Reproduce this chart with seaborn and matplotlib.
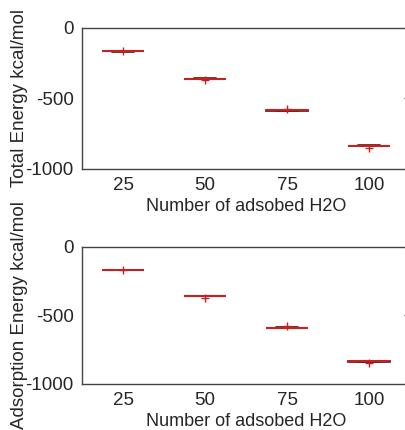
import numpy as np
import pandas as pd
import matplotlib
matplotlib.use("Agg")
import matplotlib.pyplot as plt
import seaborn as sns

sns.set_style("white")
plt.rcParams['font.family'] = ['Liberation Sans', 'DejaVu Sans']
plt.rcParams['axes.unicode_minus'] = False

# adsorbed water counts
n_water = ["25", "50", "75", "100"]

# total energy samples (kcal/mol) per group
total_25 = [-163, -165, -165, -166, -167]
total_50 = [-357, -359, -360, -361, -363, -372]
total_75 = [-583, -585, -586, -587, -572]
total_100 = [-832, -834, -835, -836, -838, -850]

# adsorption energy samples (kcal/mol)
ads_25 = [-168, -170, -170, -171, -172]
ads_50 = [-357, -359, -360, -361, -362, -372]
ads_75 = [-588, -590, -590, -591, -592, -577]
ads_100 = [-832, -834, -835, -836, -837, -850]


def long_frame(groups):
    rows = []
    for lab, vals in zip(n_water, groups):
        for v in vals:
            rows.append({"n": lab, "E": v})
    return pd.DataFrame(rows)


df_total = long_frame([total_25, total_50, total_75, total_100])
df_ads = long_frame([ads_25, ads_50, ads_75, ads_100])

fig = plt.figure(figsize=(4.05, 4.30), dpi=100)
ax1 = fig.add_axes([0.2025, 0.607, 0.81, 0.328])
ax2 = fig.add_axes([0.2025, 0.107, 0.81, 0.319])

box_kw = dict(
    width=0.52,
    color="white",
    linecolor="#5a2a2a",
    linewidth=1.3,
    medianprops=dict(color="#c82020", linewidth=1.5),
    flierprops=dict(marker="+", markeredgecolor="#c82020", markersize=6),
)

for ax, df, lab in [(ax1, df_total, "Total Energy kcal/mol"),
                    (ax2, df_ads, "Adsorption Energy kcal/mol")]:
    sns.boxplot(data=df, x="n", y="E", order=n_water, ax=ax, **box_kw)
    ax.set_xlim(-0.5, 3.5)
    ax.set_ylim(-1000, 0)
    ax.set_yticks([-1000, -500, 0])
    ax.set_xlabel("Number of adsobed H2O", fontsize=13, labelpad=3)
    ax.set_ylabel(lab, fontsize=13.5, labelpad=-2)
    ax.tick_params(direction="in", labelsize=13.5, length=4, top=False, right=True, pad=6)
    for s in ax.spines.values():
        s.set_color("#444444")
        s.set_linewidth(1.0)

fig.savefig("out.png", dpi=100)
